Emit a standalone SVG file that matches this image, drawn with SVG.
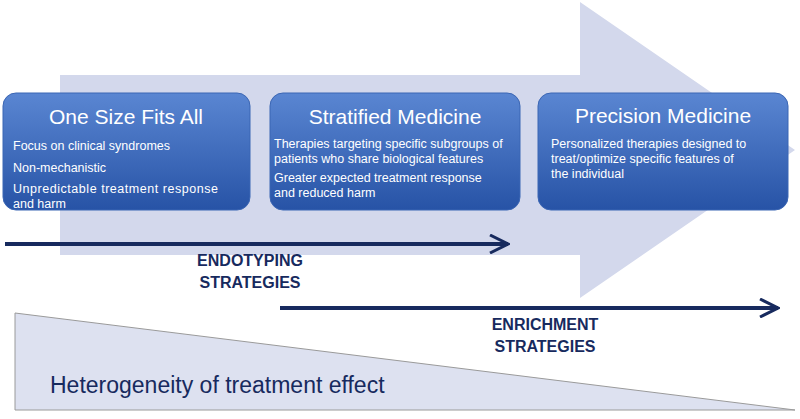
<svg xmlns="http://www.w3.org/2000/svg" width="800" height="419" viewBox="0 0 800 419">
<defs>
<linearGradient id="g" x1="0" y1="0" x2="0" y2="1"><stop offset="0" stop-color="#5a86d2"/><stop offset="1" stop-color="#2753a6"/></linearGradient>
<marker id="ah2" markerWidth="22" markerHeight="20" refX="20" refY="10" orient="auto" markerUnits="userSpaceOnUse"><path d="M2,1 L20,10 L2,19" fill="none" stroke="#172a5e" stroke-width="3"/></marker>
<style>
.box{fill:url(#g);stroke:#3b66b4;stroke-width:1}
.t{font-family:"Liberation Sans",Arial,sans-serif;fill:#fff;font-size:21px}
.b{font-family:"Liberation Sans",Arial,sans-serif;fill:#fff;font-size:12.5px}
.s{font-family:"Liberation Sans",Arial,sans-serif;fill:#172a5e;font-size:16px;font-weight:bold}
.ln{stroke:#172a5e;stroke-width:4;fill:none}
</style>
</defs>
<polygon points="60,75 580,75 580,2 795,150 580,298 580,255 60,255" fill="#d3d8ec"/>
<polygon points="15,313 15,410 795,410" fill="#dde1f0" stroke="#9a9a9a" stroke-width="1"/>
<text x="50" y="393" font-family="'Liberation Sans',Arial,sans-serif" font-size="23" fill="#172a5e">Heterogeneity of treatment effect</text>
<g id="n1"><rect class="box" x="3" y="93" width="247" height="117" rx="13"/>
<text class="t" x="126" y="124" text-anchor="middle">One Size Fits All</text>
<text class="b" x="13" y="150" font-size="13.5">Focus on clinical syndromes</text>
<text class="b" x="13" y="172" font-size="13.5">Non-mechanistic</text>
<text class="b" x="13" y="193" font-size="13.5" textLength="205">Unpredictable treatment response</text>
<text class="b" x="13" y="208" font-size="13.5">and harm</text></g>
<g id="n2"><rect class="box" x="270" y="93" width="250" height="117" rx="13"/>
<text class="t" x="395" y="124" text-anchor="middle">Stratified Medicine</text>
<text class="b" x="274" y="148">Therapies targeting specific subgroups of</text>
<text class="b" x="274" y="163">patients who share biological features</text>
<text class="b" x="274" y="182">Greater expected treatment response</text>
<text class="b" x="274" y="197">and reduced harm</text></g>
<g id="n3"><rect class="box" x="538" y="93" width="250" height="117" rx="13"/>
<text class="t" x="663" y="123" text-anchor="middle">Precision Medicine</text>
<text class="b" x="551" y="148" font-size="13">Personalized therapies designed to</text>
<text class="b" x="551" y="163" font-size="13">treat/optimize specific features of</text>
<text class="b" x="551" y="178" font-size="13">the individual</text></g>
<g id="connectors">
<line class="ln" x1="5" y1="244" x2="508" y2="244" marker-end="url(#ah2)"/>
<line class="ln" x1="280" y1="308" x2="778" y2="308" marker-end="url(#ah2)"/>
</g>
<text class="s" x="250" y="266" text-anchor="middle">ENDOTYPING</text>
<text class="s" x="250" y="288" text-anchor="middle">STRATEGIES</text>
<text class="s" x="545" y="330" text-anchor="middle">ENRICHMENT</text>
<text class="s" x="545" y="352" text-anchor="middle">STRATEGIES</text>
</svg>
